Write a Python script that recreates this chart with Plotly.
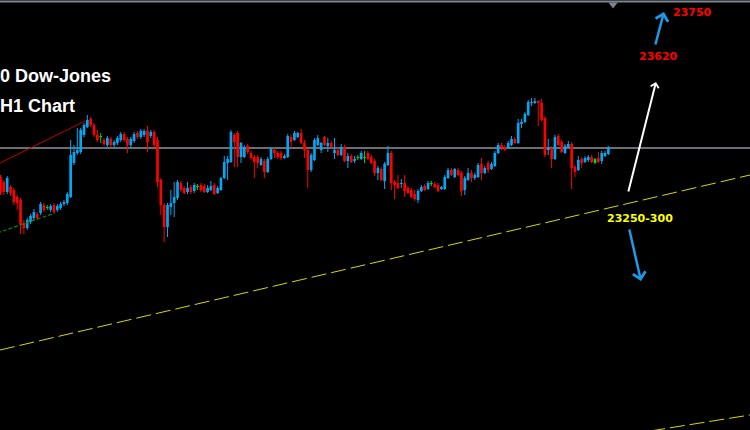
import plotly.graph_objects as go

# ---------------- data (price units) ----------------
OPEN = [
    23346, 23336, 23316, 23326, 23320, 23306, 23300, 23254, 23244, 23256,
    23264, 23272, 23274, 23290, 23284, 23280, 23290, 23280, 23284, 23292,
    23294, 23306, 23374, 23394, 23396, 23430, 23446, 23462, 23450, 23430,
    23426, 23420, 23410, 23422, 23410, 23414, 23420, 23432, 23422, 23410,
    23418, 23434, 23426, 23430, 23438, 23428, 23436, 23420, 23340, 23290,
    23246, 23286, 23294, 23304, 23334, 23324, 23316, 23326, 23318, 23326,
    23330, 23328, 23316, 23320, 23330, 23314, 23320, 23344, 23374, 23376,
    23430, 23434, 23386, 23386, 23408, 23394, 23386, 23386, 23370, 23378,
    23356, 23382, 23400, 23394, 23394, 23384, 23386, 23426, 23420, 23426,
    23434, 23414, 23400, 23360, 23380, 23410, 23400, 23426, 23408, 23414,
    23394, 23400, 23390, 23406, 23378, 23388, 23378, 23384, 23382, 23384,
    23394, 23386, 23378, 23354, 23362, 23338, 23370, 23394, 23336, 23334,
    23332, 23334, 23324, 23320, 23312, 23300, 23318, 23328, 23322, 23332,
    23332, 23330, 23322, 23322, 23344, 23360, 23346, 23360, 23354, 23320,
    23340, 23354, 23344, 23346, 23372, 23354, 23374, 23362, 23368, 23394,
    23410, 23406, 23404, 23410, 23422, 23414, 23452, 23456, 23470, 23494,
    23494, 23498, 23494, 23464, 23400, 23404, 23382, 23428, 23416, 23394,
    23406, 23412, 23366, 23360, 23382, 23376, 23380, 23386, 23374, 23384,
    23378, 23388, 23392,
]
HIGH = [
    23350, 23340, 23348, 23330, 23324, 23310, 23304, 23260, 23264, 23272,
    23282, 23276, 23296, 23294, 23290, 23292, 23294, 23292, 23296, 23300,
    23316, 23420, 23410, 23444, 23444, 23454, 23470, 23466, 23454, 23440,
    23434, 23424, 23428, 23426, 23420, 23428, 23436, 23436, 23426, 23426,
    23436, 23438, 23442, 23442, 23448, 23440, 23440, 23426, 23344, 23294,
    23294, 23320, 23336, 23340, 23338, 23328, 23336, 23330, 23334, 23332,
    23334, 23332, 23330, 23338, 23334, 23328, 23346, 23388, 23388, 23440,
    23434, 23438, 23416, 23410, 23412, 23398, 23390, 23390, 23386, 23382,
    23386, 23406, 23404, 23398, 23398, 23392, 23432, 23430, 23438, 23436,
    23442, 23420, 23404, 23394, 23424, 23430, 23416, 23428, 23424, 23418,
    23424, 23404, 23412, 23410, 23394, 23392, 23388, 23390, 23398, 23398,
    23398, 23390, 23382, 23368, 23366, 23376, 23408, 23398, 23340, 23350,
    23342, 23350, 23328, 23324, 23320, 23322, 23330, 23332, 23338, 23338,
    23336, 23334, 23328, 23350, 23364, 23364, 23364, 23364, 23358, 23348,
    23364, 23360, 23354, 23374, 23384, 23368, 23378, 23376, 23398, 23414,
    23414, 23410, 23418, 23428, 23426, 23462, 23462, 23476, 23500, 23504,
    23504, 23500, 23502, 23468, 23422, 23408, 23430, 23432, 23420, 23412,
    23418, 23416, 23370, 23388, 23386, 23388, 23390, 23390, 23384, 23396,
    23398, 23398, 23408,
]
LOW = [
    23310, 23310, 23312, 23308, 23290, 23280, 23232, 23232, 23240, 23252,
    23260, 23260, 23270, 23276, 23280, 23276, 23274, 23276, 23280, 23288,
    23290, 23304, 23370, 23390, 23392, 23426, 23444, 23446, 23426, 23416,
    23414, 23408, 23406, 23406, 23406, 23410, 23416, 23416, 23394, 23406,
    23414, 23422, 23422, 23426, 23396, 23424, 23404, 23326, 23270, 23216,
    23226, 23270, 23266, 23300, 23316, 23312, 23312, 23312, 23314, 23320,
    23316, 23314, 23314, 23318, 23310, 23312, 23318, 23342, 23340, 23374,
    23366, 23366, 23374, 23384, 23392, 23380, 23344, 23364, 23368, 23344,
    23354, 23380, 23384, 23382, 23380, 23382, 23384, 23404, 23418, 23424,
    23412, 23384, 23324, 23356, 23378, 23408, 23394, 23408, 23396, 23404,
    23382, 23388, 23388, 23376, 23364, 23374, 23374, 23380, 23380, 23374,
    23380, 23372, 23348, 23340, 23338, 23322, 23368, 23320, 23302, 23322,
    23324, 23306, 23312, 23304, 23298, 23294, 23316, 23318, 23320, 23328,
    23324, 23316, 23320, 23320, 23342, 23348, 23344, 23348, 23308, 23310,
    23338, 23336, 23340, 23344, 23340, 23352, 23354, 23360, 23366, 23392,
    23400, 23398, 23402, 23408, 23412, 23412, 23444, 23454, 23468, 23488,
    23492, 23448, 23458, 23386, 23390, 23364, 23380, 23408, 23394, 23392,
    23404, 23322, 23346, 23358, 23364, 23374, 23376, 23374, 23372, 23374,
    23372, 23386, 23390,
]
CLOSE = [
    23314, 23316, 23344, 23314, 23296, 23294, 23250, 23244, 23260, 23268,
    23276, 23264, 23292, 23280, 23286, 23288, 23276, 23288, 23292, 23296,
    23312, 23390, 23396, 23400, 23440, 23450, 23460, 23450, 23430, 23420,
    23428, 23412, 23424, 23410, 23416, 23424, 23432, 23420, 23410, 23422,
    23432, 23426, 23438, 23438, 23416, 23436, 23410, 23336, 23290, 23246,
    23290, 23294, 23306, 23336, 23320, 23314, 23324, 23316, 23330, 23328,
    23320, 23316, 23324, 23328, 23312, 23324, 23344, 23376, 23382, 23436,
    23416, 23386, 23414, 23406, 23396, 23384, 23376, 23374, 23382, 23356,
    23382, 23402, 23394, 23386, 23384, 23388, 23428, 23416, 23434, 23434,
    23414, 23400, 23360, 23390, 23420, 23424, 23414, 23410, 23414, 23406,
    23400, 23390, 23406, 23378, 23388, 23376, 23382, 23386, 23394, 23386,
    23382, 23374, 23354, 23364, 23340, 23372, 23394, 23334, 23330, 23324,
    23334, 23318, 23314, 23306, 23302, 23318, 23326, 23320, 23334, 23334,
    23326, 23318, 23326, 23346, 23360, 23350, 23362, 23350, 23318, 23344,
    23354, 23344, 23350, 23370, 23354, 23364, 23360, 23372, 23394, 23410,
    23404, 23400, 23414, 23422, 23414, 23454, 23456, 23472, 23496, 23496,
    23498, 23494, 23460, 23390, 23404, 23382, 23426, 23410, 23396, 23408,
    23412, 23364, 23356, 23380, 23374, 23384, 23386, 23376, 23382, 23376,
    23394, 23394, 23406,
]
DOJI_BARS = [14, 30, 59, 107, 109, 129, 178]

LEVEL_PRICE = 23404                       # grey horizontal level
RED_TREND_X, RED_TREND_Y = [-1, 25.3], [23371, 23458]
GREEN_TREND_X, GREEN_TREND_Y = [-1, 16.3], [23234, 23274]
YELLOW_UP_X, YELLOW_UP_Y = [-0.15, 224.4], [23000, 23350]
YELLOW_LOW_X, YELLOW_LOW_Y = [194.5, 224.4], [22838, 22870]
SHIFT_MARK_X, SHIFT_MARK_Y = [183.4], [23691]

TITLE_1 = "0 Dow-Jones"
TITLE_2 = "H1 Chart"
TARGET_1 = "23750"
TARGET_2 = "23620"
SUPPORT = "23250-300"

X_RANGE = [-0.15, 224.4]
Y_RANGE = [22840, 23700]

# ---------------- styles ----------------
BULL = "#00a8f3"
BEAR = "#ff0000"
DOJI = "#00d800"
ARROW_BLUE = "#1c9ae6"

assert len(OPEN) == len(HIGH) == len(LOW) == len(CLOSE)
idx = list(range(len(OPEN)))
colors = []
for i in idx:
    if i in DOJI_BARS:
        colors.append(DOJI)
    elif CLOSE[i] >= OPEN[i]:
        colors.append(BULL)
    else:
        colors.append(BEAR)

fig = go.Figure()

shapes = [
    dict(type="line", xref="paper", yref="y", x0=0, x1=1, y0=LEVEL_PRICE, y1=LEVEL_PRICE,
         line=dict(color="#8a95a1", width=1.5), layer="below"),
    dict(type="line", xref="x", yref="y", x0=RED_TREND_X[0], x1=RED_TREND_X[1],
         y0=RED_TREND_Y[0], y1=RED_TREND_Y[1], line=dict(color="#c00000", width=1)),
    dict(type="line", xref="x", yref="y", x0=GREEN_TREND_X[0], x1=GREEN_TREND_X[1],
         y0=GREEN_TREND_Y[0], y1=GREEN_TREND_Y[1],
         line=dict(color="#0a8a0a", width=1.2, dash="4px,2px")),
    dict(type="line", xref="x", yref="y", x0=YELLOW_UP_X[0], x1=YELLOW_UP_X[1],
         y0=YELLOW_UP_Y[0], y1=YELLOW_UP_Y[1],
         line=dict(color="#d8d800", width=1, dash="15px,5px")),
    dict(type="line", xref="x", yref="y", x0=YELLOW_LOW_X[0], x1=YELLOW_LOW_X[1],
         y0=YELLOW_LOW_Y[0], y1=YELLOW_LOW_Y[1],
         line=dict(color="#d8d800", width=1, dash="15px,5px")),
    dict(type="line", xref="paper", yref="paper", x0=0, x1=1, y0=1 - 1.5 / 430, y1=1 - 1.5 / 430,
         line=dict(color="#7d8590", width=2)),
]

# wicks
for col in (BULL, BEAR, DOJI):
    xs, ys = [], []
    for i in idx:
        if colors[i] == col:
            xs += [i, i, None]
            ys += [LOW[i], HIGH[i], None]
    fig.add_trace(go.Scatter(x=xs, y=ys, mode="lines", line=dict(color=col, width=1),
                             hoverinfo="skip", showlegend=False))

# bodies
fig.add_trace(go.Bar(
    x=idx,
    base=[min(o, c) for o, c in zip(OPEN, CLOSE)],
    y=[abs(c - o) for o, c in zip(OPEN, CLOSE)],
    width=0.8,
    marker=dict(color=colors, line=dict(width=0)),
    hoverinfo="skip", showlegend=False,
))

# chart-shift marker
fig.add_trace(go.Scatter(x=SHIFT_MARK_X, y=SHIFT_MARK_Y, mode="markers",
                         marker=dict(symbol="triangle-down", size=8, color="#7d8590"),
                         hoverinfo="skip", showlegend=False))


def px(x):
    return x / 750


def py(y):
    return 1 - y / 430


title_font = dict(family="Liberation Sans, Arial, sans-serif", size=18, color="white", weight="bold")
label_font = dict(family="DejaVu Sans, Verdana, sans-serif", size=11, weight="bold")

annotations = [
    dict(text=TITLE_1, x=0, y=py(76), xanchor="left", yanchor="middle", font=title_font,
         borderpad=0, borderwidth=0),
    dict(text=TITLE_2, x=0, y=py(106), xanchor="left", yanchor="middle", font=title_font,
         borderpad=0, borderwidth=0),
    dict(text=TARGET_1, x=px(692), y=py(13), xanchor="center", yanchor="middle",
         font=dict(label_font, color="#ff0000")),
    dict(text=TARGET_2, x=px(658.5), y=py(56.5), xanchor="center", yanchor="middle",
         font=dict(label_font, color="#ff0000")),
    dict(text=SUPPORT, x=px(639.5), y=py(218), xanchor="center", yanchor="middle",
         font=dict(label_font, color="#ffff00")),
]
for a in annotations:
    a.update(xref="paper", yref="paper", showarrow=False)

arrows = [
    dict(x=px(656), y=py(82), ax=-28, ay=111, arrowcolor="white", arrowwidth=2, arrowsize=0.8),
    dict(x=px(664), y=py(12), ax=-9, ay=34, arrowcolor=ARROW_BLUE, arrowwidth=2.5, arrowsize=1.0),
    dict(x=px(641), y=py(281), ax=-12, ay=-53, arrowcolor=ARROW_BLUE, arrowwidth=2.5, arrowsize=1.0),
]
for a in arrows:
    a.update(xref="paper", yref="paper", text="", showarrow=True, arrowhead=4,
             axref="pixel", ayref="pixel", standoff=0, startstandoff=0)
    annotations.append(a)

fig.update_layout(
    width=750, height=430, autosize=False,
    margin=dict(l=0, r=0, t=0, b=0, pad=0),
    paper_bgcolor="black", plot_bgcolor="black",
    xaxis=dict(range=X_RANGE, visible=False, fixedrange=True),
    yaxis=dict(range=Y_RANGE, visible=False, fixedrange=True),
    showlegend=False, hovermode=False,
    shapes=shapes, annotations=annotations,
)

fig.write_html("out.html", config={"displayModeBar": False},
               post_script="document.body.style.margin='0';")
